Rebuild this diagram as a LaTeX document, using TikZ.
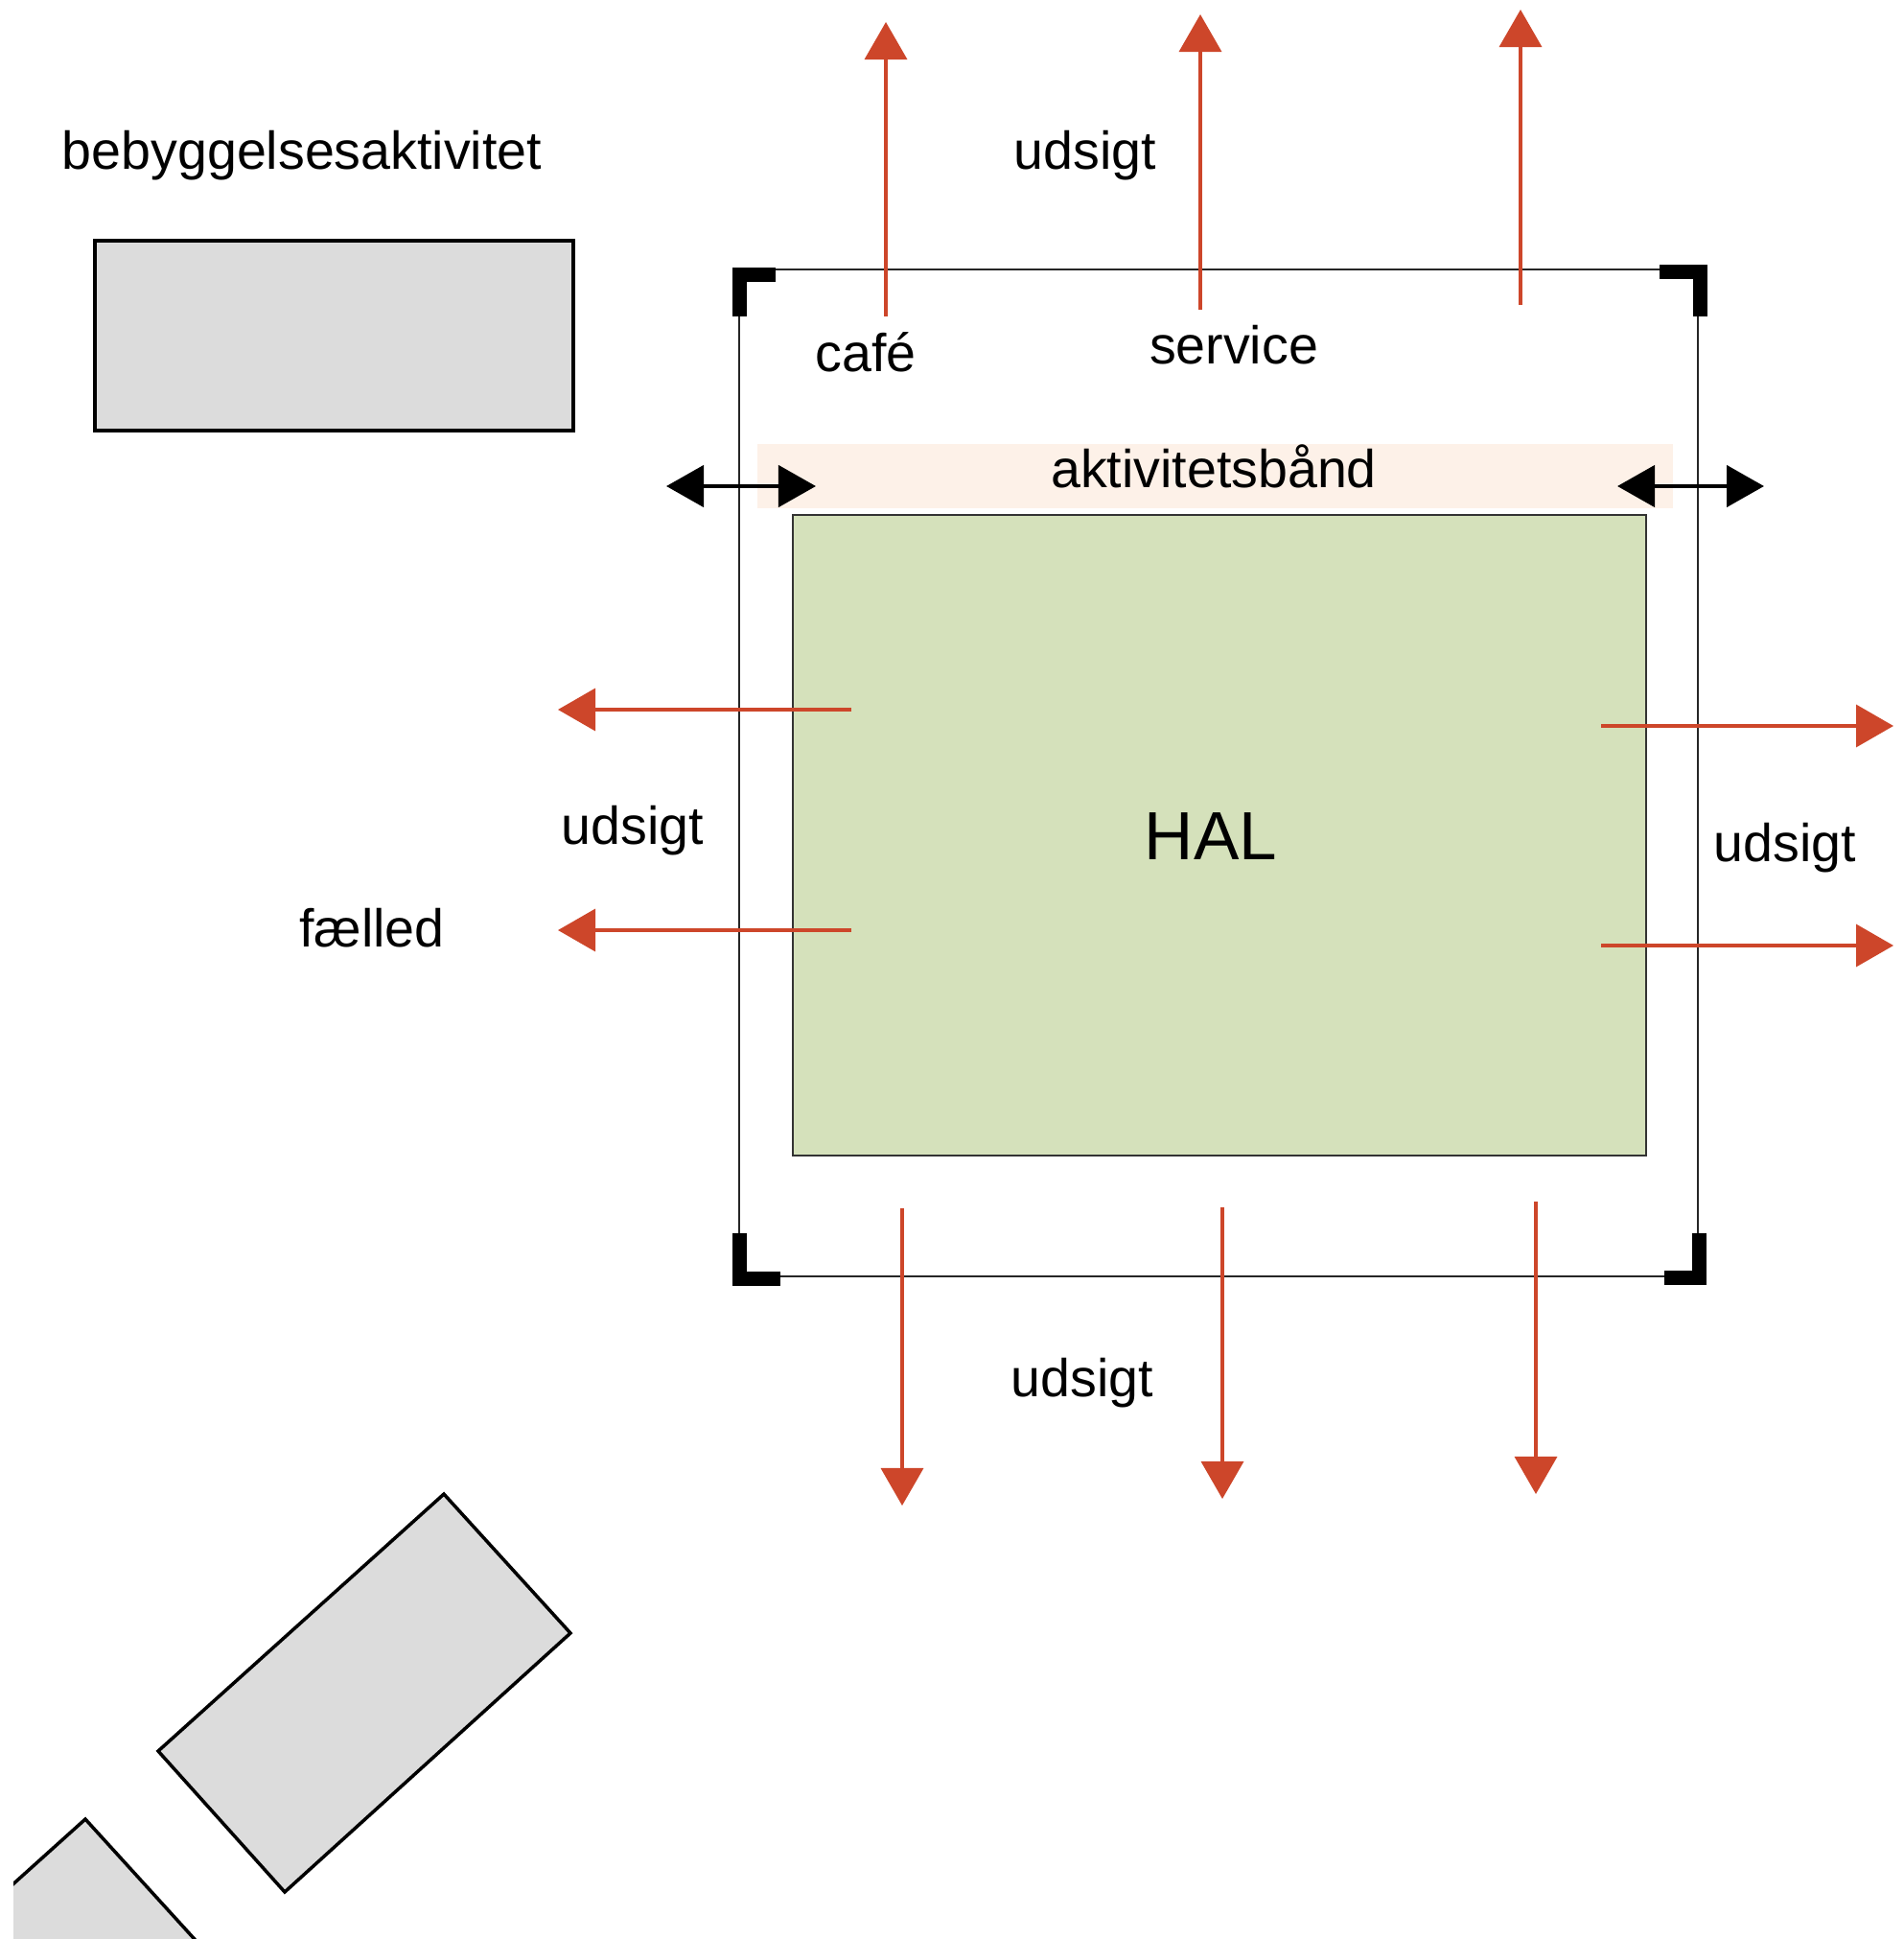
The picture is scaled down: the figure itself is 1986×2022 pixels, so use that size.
\documentclass[tikz,border=0pt]{standalone}
\usepackage{fontspec}
\setmainfont{Liberation Sans}
\usetikzlibrary{arrows.meta}
\definecolor{arrred}{RGB}{205,70,42}
\definecolor{halgreen}{RGB}{213,225,187}
\definecolor{bldgray}{RGB}{220,220,220}
\definecolor{bandpeach}{RGB}{253,241,232}
\tikzset{
  lbl/.style={anchor=base, inner sep=0pt, font=\fontsize{15.8}{18}\selectfont},
  halbl/.style={anchor=base, inner sep=0pt, font=\fontsize{20.2}{24}\selectfont},
  viewarrow/.style={draw=arrred, line width=0.034cm, -{Triangle[length=0.39cm,width=0.44cm]}, arrred},
  bandarrow/.style={draw=black, line width=0.045cm, {Triangle[length=0.39cm,width=0.43cm]}-{Triangle[length=0.39cm,width=0.43cm]}},
  bldg/.style={fill=bldgray, draw=black, line width=0.035cm, line join=miter},
  corner/.style={draw=black, line width=0.15cm, line join=miter, line cap=butt},
  framebox/.style={draw=black!85, line width=0.025cm},
  halbox/.style={fill=halgreen, draw=black!80, line width=0.022cm}
}
\begin{document}
\begin{tikzpicture}[x=0.01cm,y=-0.01cm]
\useasboundingbox (0,0) rectangle (1986,2022);
\fill[white] (0,0) rectangle (1986,2022);

% building blocks
\draw[bldg] (99,251) rectangle (598,449);
\draw[bldg] (463,1558) -- (595,1703) -- (297,1973) -- (165,1826) -- cycle;
\begin{scope}
  \clip (14,0) rectangle (1986,2022);
  \draw[bldg] (89,1897) -- (221,2042) -- (-77,2312) -- (-209,2165) -- cycle;
\end{scope}

% activity band, frame and hall
\fill[bandpeach] (790,463) rectangle (1745,530);
\draw[framebox] (771,281) rectangle (1771,1331);
\draw[halbox] (827,537) rectangle (1717,1205);

% corner brackets
\draw[corner] (809,287) -- (771,287) -- (771,330);
\draw[corner] (1731,283.5) -- (1773.5,283.5) -- (1773.5,330);
\draw[corner] (771.5,1286) -- (771.5,1333.5) -- (814,1333.5);
\draw[corner] (1772.5,1286) -- (1772.5,1332.5) -- (1736,1332.5);

% labels
\node[lbl] (bebyg) at (315,177) {bebyggelsesaktivitet};
\node[lbl] (udsN) at (1132,177) {udsigt};
\node[lbl] (cafe) at (903,388) {café};
\node[lbl] (service) at (1287,380) {service};
\node[lbl] (band) at (1266,509) {aktivitetsbånd};
\node[lbl] (udsW) at (660,880) {udsigt};
\node[lbl] (faelled) at (388,987) {fælled};
\node[lbl] (udsE) at (1862,898) {udsigt};
\node[lbl] (udsS) at (1129,1456) {udsigt};
\node[halbl] (hal) at (1263,896) {HAL};

% arrow end points
\coordinate (n1a) at (924,330);  \coordinate (n1b) at (924,23);
\coordinate (n2a) at (1252,323); \coordinate (n2b) at (1252,15);
\coordinate (n3a) at (1586,318); \coordinate (n3b) at (1586,10);
\coordinate (s1a) at (941,1260); \coordinate (s1b) at (941,1570);
\coordinate (s2a) at (1275,1259); \coordinate (s2b) at (1275,1563);
\coordinate (s3a) at (1602,1253); \coordinate (s3b) at (1602,1558);
\coordinate (w1a) at (888,740);  \coordinate (w1b) at (582,740);
\coordinate (w2a) at (888,970);  \coordinate (w2b) at (582,970);
\coordinate (e1a) at (1670,757); \coordinate (e1b) at (1975,757);
\coordinate (e2a) at (1670,986); \coordinate (e2b) at (1975,986);
\coordinate (bl1) at (695,507);  \coordinate (bl2) at (851,507);
\coordinate (br1) at (1687,507); \coordinate (br2) at (1840,507);

\draw[viewarrow] (n1a) -- (n1b);
\draw[viewarrow] (n2a) -- (n2b);
\draw[viewarrow] (n3a) -- (n3b);
\draw[viewarrow] (s1a) -- (s1b);
\draw[viewarrow] (s2a) -- (s2b);
\draw[viewarrow] (s3a) -- (s3b);
\draw[viewarrow] (w1a) -- (w1b);
\draw[viewarrow] (w2a) -- (w2b);
\draw[viewarrow] (e1a) -- (e1b);
\draw[viewarrow] (e2a) -- (e2b);

\draw[bandarrow] (bl1) -- (bl2);
\draw[bandarrow] (br1) -- (br2);
\end{tikzpicture}
\end{document}
